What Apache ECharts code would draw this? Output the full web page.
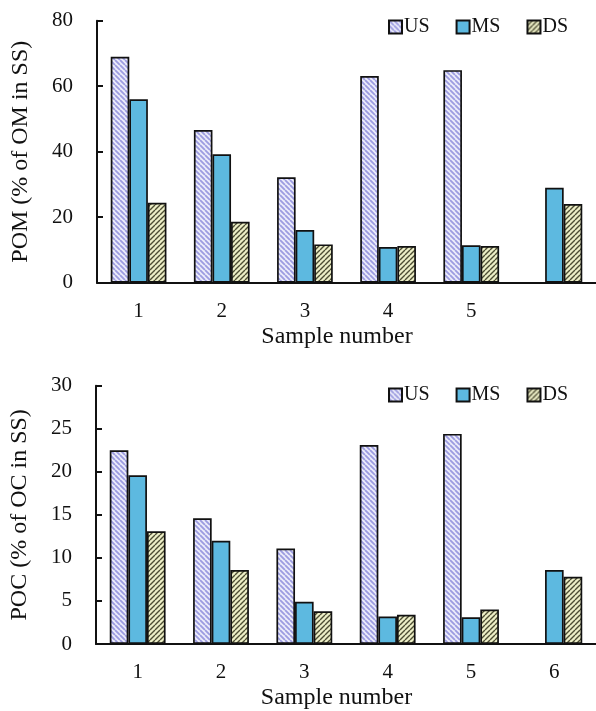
<!DOCTYPE html>
<html>
<head>
<meta charset="utf-8">
<script src="https://cdn.jsdelivr.net/npm/echarts@6/dist/echarts.min.js"></script>
<style>
  html, body { margin: 0; padding: 0; background: #fff; }
  #chart { width: 596px; height: 711px; }
</style>
</head>
<body>
<div id="chart"></div>
<script>
// Sample numbers along the x axis
const sampleNumbers = ['1', '2', '3', '4', '5', '6'];
// The upper panel leaves sample 6 unlabelled
const pomTickLabels = ['1', '2', '3', '4', '5', ''];
const seriesNames = ['US', 'MS', 'DS'];

// POM (% of OM in SS)
const pomUS = [69.0, 46.6, 32.2, 63.1, 64.9, null];
const pomMS = [56.0, 39.2, 16.1, 10.9, 11.4, 29.0];
const pomDS = [24.4, 18.6, 11.7, 11.2, 11.2, 24.0];

// POC (% of OC in SS)
const pocUS = [22.5, 14.6, 11.1, 23.1, 24.4, 0];
const pocMS = [19.6, 12.0, 4.9, 3.2, 3.1, 8.6];
const pocDS = [13.1, 8.6, 3.8, 3.4, 4.0, 7.8];

const pomTicks = { min: 0, max: 80, interval: 20 };
const pocTicks = { min: 0, max: 30, interval: 5 };

// Diagonal hatch tiles used as repeating fills
function hatch(bg, fg, size, lineWidth, rising) {
  const c = document.createElement('canvas');
  c.width = size; c.height = size;
  const g = c.getContext('2d');
  g.fillStyle = bg;
  g.fillRect(0, 0, size, size);
  g.strokeStyle = fg;
  g.lineWidth = lineWidth;
  g.beginPath();
  for (let k = -1; k <= 1; k++) {
    if (rising) {
      g.moveTo(k * size, size);
      g.lineTo(k * size + size, 0);
    } else {
      g.moveTo(k * size, 0);
      g.lineTo(k * size + size, size);
    }
  }
  g.stroke();
  return { image: c, repeat: 'repeat' };
}

const fillUS = hatch('#ececfa', '#9c9ce0', 5, 1.8, false);
const fillMS = '#5db9e0';
const fillDS = hatch('#eceec6', '#4d4d33', 5, 1.4, true);
const fills = [fillUS, fillMS, fillDS];

const serif = '"Liberation Serif", "Times New Roman", serif';
const black = '#111';

function xAxis(gridIndex, labels) {
  return {
    type: 'category',
    gridIndex: gridIndex,
    data: sampleNumbers,
    boundaryGap: true,
    name: 'Sample number',
    nameLocation: 'middle',
    nameGap: 42,
    nameTextStyle: { fontFamily: serif, fontSize: 24, color: black, padding: [0, 19, 0, 0] },
    axisLine: { lineStyle: { color: black, width: 2 } },
    axisTick: { inside: true, length: 6, lineStyle: { color: black, width: 2 } },
    axisLabel: {
      margin: 18,
      fontFamily: serif, fontSize: 21, color: black,
      formatter: function (v, i) { return labels[i]; }
    }
  };
}

function yAxis(gridIndex, name, ticks) {
  return {
    type: 'value',
    gridIndex: gridIndex,
    min: ticks.min, max: ticks.max, interval: ticks.interval,
    name: name,
    nameLocation: 'middle',
    nameGap: 64,
    nameTextStyle: { fontFamily: serif, fontSize: 24, color: black },
    axisLine: { show: true, lineStyle: { color: black, width: 2 } },
    axisTick: { show: true, inside: true, length: 6, lineStyle: { color: black, width: 2 } },
    axisLabel: { margin: 24, fontFamily: serif, fontSize: 21, color: black },
    splitLine: { show: false }
  };
}

function bars(values, idx, axisIndex) {
  return {
    type: 'bar',
    name: seriesNames[idx],
    xAxisIndex: axisIndex,
    yAxisIndex: axisIndex,
    data: values,
    barGap: '0%',
    barCategoryGap: '33%',
    itemStyle: { color: fills[idx], borderColor: black, borderWidth: 1.7 },
    emphasis: { disabled: true },
    animation: false
  };
}

function legend(top) {
  return {
    data: seriesNames,
    left: 383,
    top: top,
    icon: 'rect',
    itemWidth: 13,
    itemHeight: 13,
    itemGap: 26,
    textStyle: { fontFamily: serif, fontSize: 20, color: black, padding: [0, 0, 0, -3] }
  };
}

const chart = echarts.init(document.getElementById('chart'), null, { renderer: 'canvas' });
chart.setOption({
  backgroundColor: '#fff',
  animation: false,
  legend: [legend(12), legend(380)],
  grid: [
    { left: 97, right: 0, top: 20.7, height: 262 },
    { left: 96, right: 0, top: 385.7, height: 261.6 }
  ],
  xAxis: [xAxis(0, pomTickLabels), xAxis(1, sampleNumbers)],
  yAxis: [
    yAxis(0, 'POM (% of OM in SS)', pomTicks),
    yAxis(1, 'POC (% of OC in SS)', pocTicks)
  ],
  series: [
    bars(pomUS, 0, 0), bars(pomMS, 1, 0), bars(pomDS, 2, 0),
    bars(pocUS, 0, 1), bars(pocMS, 1, 1), bars(pocDS, 2, 1)
  ]
});
</script>
</body>
</html>
